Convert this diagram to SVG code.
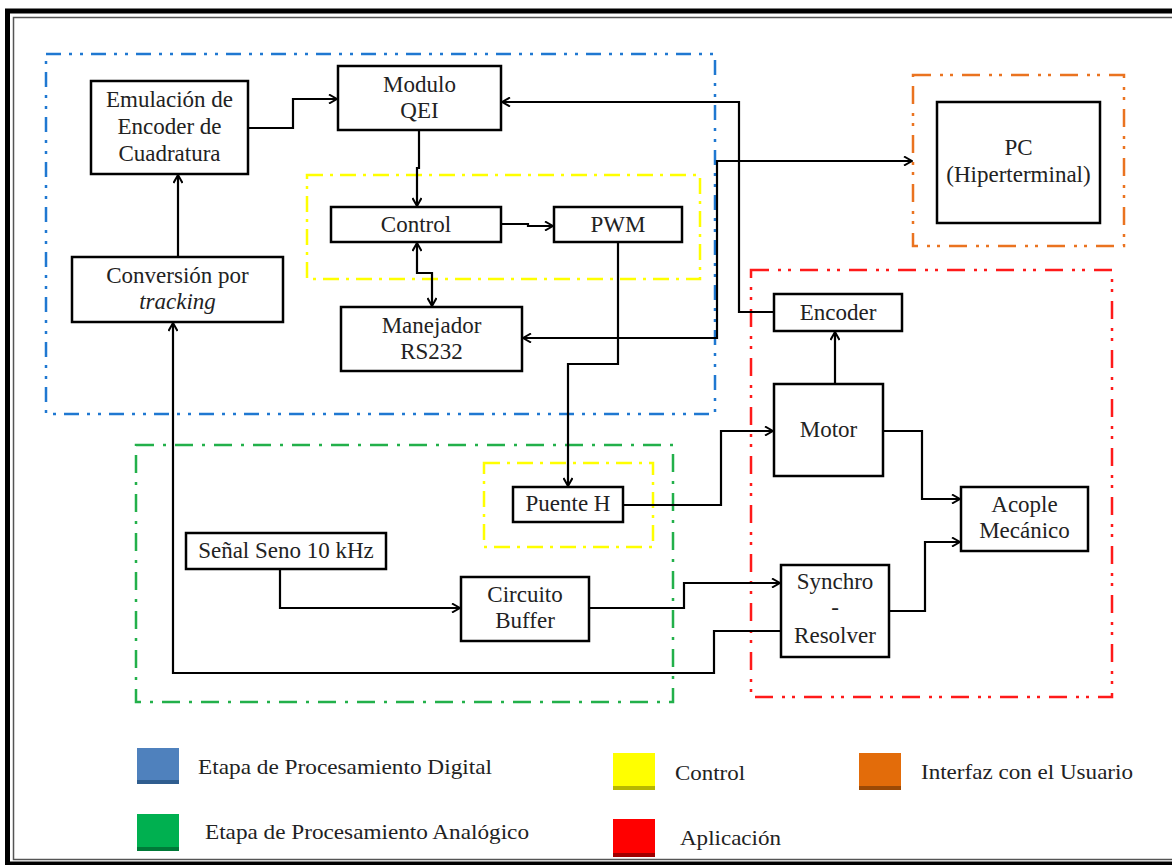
<svg xmlns="http://www.w3.org/2000/svg" width="1172" height="865" viewBox="0 0 1172 865" font-family="Liberation Serif, Times New Roman, serif">
<defs>
<style>
.node rect{fill:#fff;stroke:#000;stroke-width:2.5}
.node text{font-size:23px;fill:#222;text-anchor:middle}
.leg text{font-size:21px;fill:#222}
.conn path{fill:none;stroke:#000;stroke-width:2.2;stroke-linejoin:miter}
.grp{fill:none;stroke-width:2.5}
.blue{stroke:#1f78d1;stroke-dasharray:15 8 3 8 3 8}
.yellow{stroke:#ffff00;stroke-dasharray:16 7 3 7}
.green{stroke:#22b04a;stroke-dasharray:18 9 3 9}
.orange{stroke:#ea7320;stroke-dasharray:18 9 3 7 3 9}
.red{stroke:#ff1a1a;stroke-dasharray:18 9 3 7 3 9}
</style>
<marker id="ah" viewBox="0 0 10 10" refX="9" refY="5" markerWidth="10" markerHeight="10" markerUnits="userSpaceOnUse" orient="auto-start-reverse">
<path d="M1,0.5 L9,5 L1,9.5" fill="none" stroke="#000" stroke-width="2"/>
</marker>
</defs>
<rect x="0" y="0" width="1172" height="865" fill="#fff"/>
<!-- frame -->
<rect x="7.5" y="11" width="1180" height="853" fill="none" stroke="#000" stroke-width="5"/>
<rect x="13.5" y="17.5" width="1180" height="842" fill="none" stroke="#555" stroke-width="1.5"/>

<!-- group boxes -->
<g id="groups">
<rect class="grp blue" x="46" y="54" width="669" height="360"/>
<rect class="grp yellow" x="307" y="175" width="393" height="104"/>
<rect class="grp orange" x="913" y="75" width="211" height="171"/>
<rect class="grp red" x="751" y="270" width="361" height="427"/>
<rect class="grp green" x="136" y="445" width="537" height="257"/>
<rect class="grp yellow" x="484" y="463" width="169" height="84"/>
</g>

<!-- connectors -->
<g id="connectors" class="conn">
<path d="M178,257 V175" marker-end="url(#ah)"/>
<path d="M248,128 H293 V99 H337" marker-end="url(#ah)"/>
<path d="M419,130 V168 H417 V206" marker-end="url(#ah)"/>
<path d="M501,224 H528 V226 H553" marker-end="url(#ah)"/>
<path d="M417,243 V273 H432 V306" marker-start="url(#ah)" marker-end="url(#ah)"/>
<path d="M618,242 V364 H568 V486" marker-end="url(#ah)"/>
<path d="M774,312 H739 V102 H502" marker-end="url(#ah)"/>
<path d="M523,338 H717 V161 H912" marker-start="url(#ah)" marker-end="url(#ah)"/>
<path d="M623,505 H721 V431 H773" marker-end="url(#ah)"/>
<path d="M835,384 V332" marker-end="url(#ah)"/>
<path d="M883,431 H922 V499 H960" marker-end="url(#ah)"/>
<path d="M889,611 H925 V542 H960" marker-end="url(#ah)"/>
<path d="M280,569 V608 H460" marker-end="url(#ah)"/>
<path d="M589,608 H684 V583 H780" marker-end="url(#ah)"/>
<path d="M781,631 H714 V673 H173 V323" marker-end="url(#ah)"/>
</g>

<!-- nodes -->
<g id="emulacion" class="node"><rect x="91" y="81" width="157" height="93"/>
<text x="169.5" y="107">Emulación de</text><text x="169.5" y="134">Encoder de</text><text x="169.5" y="161">Cuadratura</text></g>
<g id="qei" class="node"><rect x="338" y="66" width="163" height="64"/>
<text x="419.5" y="92">Modulo</text><text x="419.5" y="118">QEI</text></g>
<g id="control" class="node"><rect x="331" y="207" width="170" height="35"/>
<text x="416" y="232">Control</text></g>
<g id="pwm" class="node"><rect x="554" y="207" width="128" height="35"/>
<text x="618" y="232">PWM</text></g>
<g id="conversion" class="node"><rect x="72" y="257" width="211" height="65"/>
<text x="177.5" y="283">Conversión por</text><text x="177.5" y="309" font-style="italic">tracking</text></g>
<g id="manejador" class="node"><rect x="341" y="307" width="181" height="64"/>
<text x="431.5" y="333">Manejador</text><text x="431.5" y="359">RS232</text></g>
<g id="pc" class="node"><rect x="937" y="102" width="163" height="121"/>
<text x="1018.5" y="155">PC</text><text x="1018.5" y="182">(Hiperterminal)</text></g>
<g id="encoder" class="node"><rect x="774" y="294" width="128" height="37"/>
<text x="838" y="320">Encoder</text></g>
<g id="motor" class="node"><rect x="774" y="384" width="109" height="92"/>
<text x="828.5" y="437">Motor</text></g>
<g id="acople" class="node"><rect x="961" y="487" width="127" height="64"/>
<text x="1024.5" y="512">Acople</text><text x="1024.5" y="538">Mecánico</text></g>
<g id="synchro" class="node"><rect x="781" y="565" width="108" height="92"/>
<text x="835" y="589">Synchro</text><text x="835" y="615">-</text><text x="835" y="643">Resolver</text></g>
<g id="puente" class="node"><rect x="513" y="487" width="110" height="35"/>
<text x="568" y="511">Puente H</text></g>
<g id="senal" class="node"><rect x="186" y="533" width="200" height="36"/>
<text x="286" y="558">Señal Seno 10 kHz</text></g>
<g id="buffer" class="node"><rect x="461" y="577" width="128" height="64"/>
<text x="525" y="602">Circuito</text><text x="525" y="628">Buffer</text></g>

<!-- legend -->
<g id="legend" class="leg">
<rect x="137" y="748" width="42" height="36" fill="#4f81bd"/><rect x="137" y="780" width="42" height="4" fill="#2f5d8f"/>
<text x="198" y="774" textLength="294" lengthAdjust="spacingAndGlyphs">Etapa de Procesamiento Digital</text>
<rect x="613" y="753" width="42" height="37" fill="#ffff00"/><rect x="613" y="786" width="42" height="4" fill="#b8b800"/>
<text x="675" y="780" textLength="70" lengthAdjust="spacingAndGlyphs">Control</text>
<rect x="859" y="753" width="42" height="37" fill="#e36c0a"/><rect x="859" y="786" width="42" height="4" fill="#9c4a06"/>
<text x="921" y="779" textLength="212" lengthAdjust="spacingAndGlyphs">Interfaz con el Usuario</text>
<rect x="137" y="814" width="42" height="37" fill="#00b050"/><rect x="137" y="847" width="42" height="4" fill="#007a38"/>
<text x="205" y="839" textLength="324" lengthAdjust="spacingAndGlyphs">Etapa de Procesamiento Analógico</text>
<rect x="613" y="819" width="42" height="38" fill="#ff0000"/><rect x="613" y="853" width="42" height="4" fill="#a00000"/>
<text x="680" y="845" textLength="101" lengthAdjust="spacingAndGlyphs">Aplicación</text>
</g>
</svg>
